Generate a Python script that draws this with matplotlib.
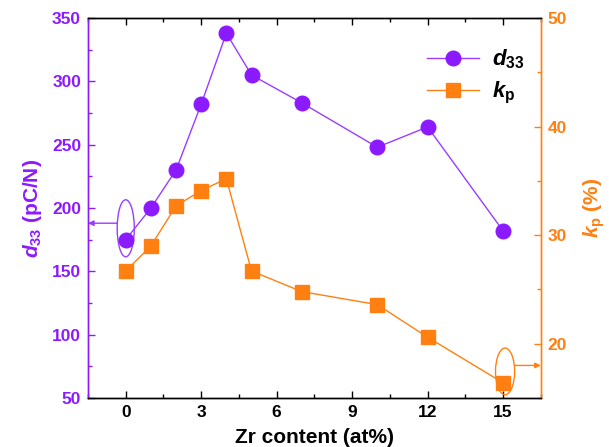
import matplotlib
matplotlib.use("Agg")
import matplotlib.pyplot as plt
from matplotlib.patches import Ellipse
from matplotlib.ticker import MultipleLocator

plt.rcParams['font.family'] = ['Liberation Sans', 'DejaVu Sans']
plt.rcParams['font.weight'] = 'bold'
plt.rcParams['mathtext.fontset'] = 'custom'
plt.rcParams['mathtext.rm'] = 'Liberation Sans:bold'
plt.rcParams['mathtext.it'] = 'Liberation Sans:bold:italic'
plt.rcParams['mathtext.bf'] = 'Liberation Sans:bold'

zr = [0, 1, 2, 3, 4, 5, 7, 10, 12, 15]
d33 = [175, 200, 230, 282, 338, 305, 283, 248, 264, 182]
kp = [26.7, 29.0, 32.7, 34.1, 35.2, 26.7, 24.8, 23.6, 20.6, 16.4]
xticks = [0, 3, 6, 9, 12, 15]

purple = '#8c1aff'
purple_line = '#9a3dff'
orange = '#ff8010'

fig = plt.figure(figsize=(6.09, 4.47), dpi=100)
ax = fig.add_axes([0.1445, 0.1096, 0.7435, 0.8501])
ax2 = ax.twinx()

l1, = ax.plot(zr, d33, '-o', color=purple_line, mfc=purple, mec=purple, ms=10.5, lw=1.0, label=r'$d_{33}$')
l2, = ax2.plot(zr, kp, '-s', color=orange, mfc=orange, mec=orange, ms=9.5, lw=1.0, label=r'$k_{\mathrm{p}}$')

ax.set_xlim(-1.5, 16.5)
ax.set_ylim(50, 350)
ax2.set_ylim(15, 50)
ax.set_xticks(xticks)
ax.xaxis.set_minor_locator(MultipleLocator(1.5))
ax.yaxis.set_major_locator(MultipleLocator(50))
ax.yaxis.set_minor_locator(MultipleLocator(25))
ax2.yaxis.set_major_locator(MultipleLocator(10))
ax2.yaxis.set_minor_locator(MultipleLocator(5))

ax.tick_params(axis='x', which='both', direction='in', top=True, colors='black', labelsize=12.5, pad=5)
ax.tick_params(axis='x', which='major', length=5, width=1)
ax.tick_params(axis='x', which='minor', length=3, width=1)
ax.tick_params(axis='y', which='both', direction='in', colors=purple, labelsize=12.5, pad=5)
ax.tick_params(axis='y', which='major', length=5, width=1)
ax.tick_params(axis='y', which='minor', length=3, width=1)
ax2.tick_params(axis='y', which='both', direction='in', colors=orange, labelsize=12.5, pad=5)
ax2.tick_params(axis='y', which='major', length=5, width=1)
ax2.tick_params(axis='y', which='minor', length=3, width=1)

for a in (ax, ax2):
    a.spines['left'].set_color(purple)
    a.spines['right'].set_color(orange)
    a.spines['top'].set_color('black')
    a.spines['bottom'].set_color('black')
    for s in a.spines.values():
        s.set_linewidth(1.0)

ax.set_xlabel('Zr content (at%)', fontsize=15, fontweight='bold', labelpad=6)
ax.set_ylabel(r'$d_{33}$ (pC/N)', fontsize=15, fontweight='bold', color=purple, labelpad=6)
ax2.set_ylabel(r'$k_{\mathrm{p}}$ (%)', fontsize=15, fontweight='bold', color=orange, labelpad=10)

# Ellipse + arrow annotations
e1 = Ellipse((zr[0], d33[0] + 9), 0.68, 45, fill=False, edgecolor=purple_line, lw=1.0)
ax.add_patch(e1)
ax.annotate('', xy=(-1.5, d33[0] + 13), xytext=(zr[0] - 0.34, d33[0] + 13),
            arrowprops=dict(arrowstyle='-|>', color=purple_line, lw=1.0, mutation_scale=8,
                            shrinkA=0, shrinkB=0))
e2 = Ellipse((zr[-1] + 0.08, kp[-1] + 1.05), 0.76, 4.3, fill=False, edgecolor=orange, lw=1.0)
ax2.add_patch(e2)
ax2.annotate('', xy=(16.5, kp[-1] + 1.6), xytext=(zr[-1] + 0.46, kp[-1] + 1.6),
             arrowprops=dict(arrowstyle='-|>', color=orange, lw=1.0, mutation_scale=8,
                             shrinkA=0, shrinkB=0))

leg = ax.legend(handles=[l1, l2], loc='upper left', bbox_to_anchor=(0.73, 0.945), frameon=False,
                fontsize=16, handlelength=2.3, handletextpad=0.6, labelspacing=0.4,
                borderaxespad=0)

fig.savefig('out.png', dpi=100)
